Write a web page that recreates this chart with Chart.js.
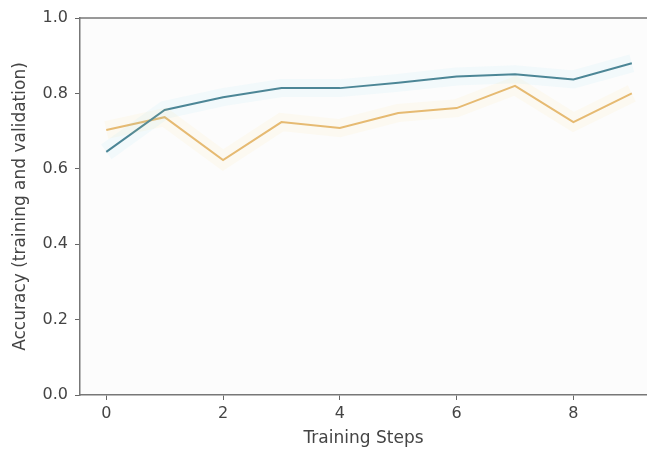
<!DOCTYPE html>
<html>
<head>
<meta charset="utf-8">
<script src="https://cdn.jsdelivr.net/npm/chart.js@4"></script>
<style>
  html, body { margin: 0; padding: 0; background: #fff; overflow: hidden; }
  #wrap { width: 647px; height: 449px; }
</style>
</head>
<body>
<div id="wrap"><canvas id="accChart" width="647" height="449"></canvas></div>
<script>
const steps = [0, 1, 2, 3, 4, 5, 6, 7, 8, 9];
const trainAcc = [0.645, 0.756, 0.790, 0.814, 0.814, 0.828, 0.845, 0.851, 0.837, 0.880];
const valAcc = [0.703, 0.737, 0.623, 0.724, 0.708, 0.748, 0.761, 0.820, 0.724, 0.800];
const xTicks = [0, 2, 4, 6, 8];
const yTicks = [0.0, 0.2, 0.4, 0.6, 0.8, 1.0];

const pts = arr => arr.map((v, i) => ({ x: steps[i], y: v }));

// plot background + top spine (the right spine is cut off in the original)
const framePlugin = {
  id: 'frame',
  beforeDraw(chart) {
    const { ctx, chartArea: a } = chart;
    ctx.save();
    ctx.fillStyle = '#fcfcfc';
    ctx.fillRect(a.left, a.top, a.right - a.left, a.bottom - a.top);
    ctx.restore();
  },
  afterDraw(chart) {
    const { ctx, chartArea: a } = chart;
    ctx.save();
    ctx.strokeStyle = '#777';
    ctx.lineWidth = 1.5;
    ctx.beginPath();
    ctx.moveTo(a.left, a.top);
    ctx.lineTo(a.right, a.top);
    ctx.stroke();
    ctx.restore();
  }
};

const tickFont = { family: 'DejaVu Sans', size: 16 };
const line = { pointRadius: 0, tension: 0 };

const config = {
  type: 'line',
  data: {
    datasets: [
      // soft halos seen around the curves in the screenshot
      { label: 'train halo', data: pts(trainAcc), borderColor: 'rgba(120,210,235,0.07)', borderWidth: 18, ...line },
      { label: 'val halo', data: pts(valAcc), borderColor: 'rgba(250,215,120,0.08)', borderWidth: 18, ...line },
      { label: 'Training', data: pts(trainAcc), borderColor: '#4a8190', borderWidth: 2, ...line },
      { label: 'Validation', data: pts(valAcc), borderColor: '#e4b872', borderWidth: 2, ...line }
    ]
  },
  options: {
    responsive: false,
    animation: false,
    layout: { padding: { top: 18, right: 0, left: 0, bottom: 0 } },
    plugins: { legend: { display: false }, tooltip: { enabled: false } },
    scales: {
      x: {
        type: 'linear',
        min: -0.45,
        max: 9.26,
        afterBuildTicks: s => { s.ticks = xTicks.map(v => ({ value: v })); },
        afterFit: s => { s.height = 54; },
        grid: { drawOnChartArea: false, tickLength: 5, color: '#666', tickColor: '#666' },
        border: { color: '#777', width: 1.5 },
        ticks: { color: '#444', font: tickFont, padding: 4, maxRotation: 0 },
        title: { display: true, text: 'Training Steps', color: '#444', font: { family: 'DejaVu Sans', size: 17 }, padding: { top: 0, bottom: 0 } }
      },
      y: {
        min: 0,
        max: 1,
        afterBuildTicks: s => { s.ticks = yTicks.map(v => ({ value: v })); },
        afterFit: s => { s.width = 80; },
        grid: { drawOnChartArea: false, tickLength: 5, color: '#666', tickColor: '#666' },
        border: { color: '#777', width: 1.5 },
        ticks: { color: '#444', font: tickFont, padding: 7, callback: v => v.toFixed(1) },
        title: { display: true, text: 'Accuracy (training and validation)', color: '#444', font: { family: 'DejaVu Sans', size: 17 }, padding: { top: 10, bottom: 0 } }
      }
    }
  },
  plugins: [framePlugin]
};

new Chart(document.getElementById('accChart'), config);
</script>
</body>
</html>
